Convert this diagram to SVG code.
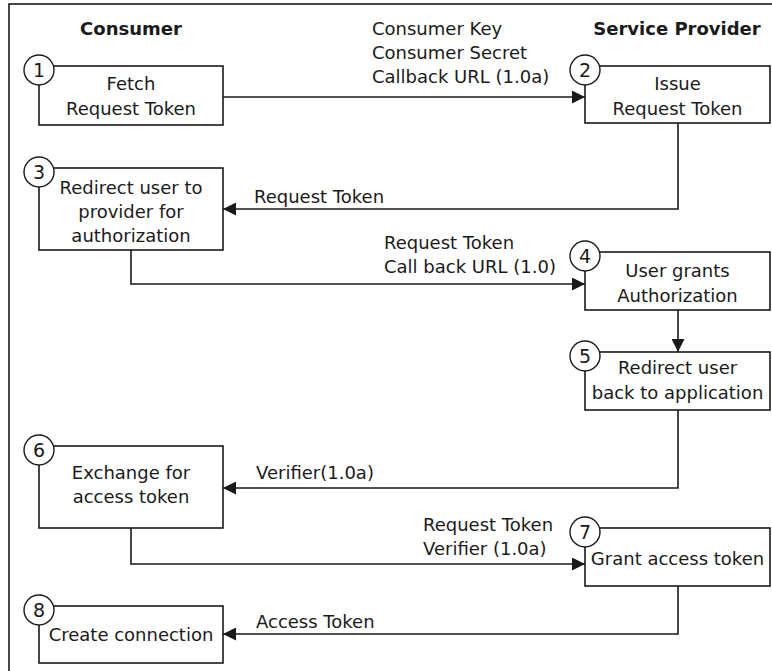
<svg xmlns="http://www.w3.org/2000/svg" width="772" height="671" viewBox="0 0 772 671">
  <style>
    .box { fill: #fff; stroke: #1a1a1a; stroke-width: 1.6; }
    .num { fill: #fff; stroke: #1a1a1a; stroke-width: 1.4; }
    .wire { fill: none; stroke: #1a1a1a; stroke-width: 1.6; }
    text { font-family: "DejaVu Sans", "Liberation Sans", sans-serif; font-size: 18px; fill: #1a1a1a; }
    .head { font-weight: bold; font-size: 18px; }
    .c { text-anchor: middle; }
    .n { font-size: 19px; text-anchor: middle; }
  </style>
  <defs>
    <marker id="arrow" viewBox="0 0 13 13" refX="13" refY="6.5" markerWidth="13" markerHeight="13" markerUnits="userSpaceOnUse" orient="auto">
      <path d="M0,0 L13,6.5 L0,13 Z" fill="#1a1a1a"/>
    </marker>
  </defs>

  <!-- outer frame -->
  <rect x="9" y="4" width="800" height="700" fill="none" stroke="#1a1a1a" stroke-width="1.6"/>

  <!-- column headings -->
  <text class="head c" x="131" y="35">Consumer</text>
  <text class="head c" x="677" y="35">Service Provider</text>

  <!-- connectors -->
  <g id="connectors">
    <path class="wire" d="M223,97 H585" marker-end="url(#arrow)"/>
    <path class="wire" d="M678,123 V209 H223" marker-end="url(#arrow)"/>
    <path class="wire" d="M131,250 V284 H585" marker-end="url(#arrow)"/>
    <path class="wire" d="M678,310 V352" marker-end="url(#arrow)"/>
    <path class="wire" d="M678,410 V488 H223" marker-end="url(#arrow)"/>
    <path class="wire" d="M131,528 V564 H585" marker-end="url(#arrow)"/>
    <path class="wire" d="M678,586 V634 H223" marker-end="url(#arrow)"/>

    <text x="372" y="35">Consumer Key</text>
    <text x="372" y="59">Consumer Secret</text>
    <text x="372" y="83">Callback URL (1.0a)</text>
    <text x="254" y="203">Request Token</text>
    <text x="384" y="249">Request Token</text>
    <text x="384" y="273">Call back URL (1.0)</text>
    <text x="256" y="479">Verifier(1.0a)</text>
    <text x="423" y="531">Request Token</text>
    <text x="423" y="555">Verifier (1.0a)</text>
    <text x="256" y="628">Access Token</text>
  </g>

  <!-- steps -->
  <g id="node1">
    <rect class="box" x="39" y="66" width="184" height="59"/>
    <text class="c" x="131" y="90">Fetch</text>
    <text class="c" x="131" y="115">Request Token</text>
    <circle class="num" cx="39" cy="70" r="15"/>
    <text class="n" x="39" y="77">1</text>
  </g>
  <g id="node2">
    <rect class="box" x="585" y="66" width="185" height="57"/>
    <text class="c" x="677.5" y="90">Issue</text>
    <text class="c" x="677.5" y="115">Request Token</text>
    <circle class="num" cx="585" cy="70" r="15"/>
    <text class="n" x="585" y="77">2</text>
  </g>
  <g id="node3">
    <rect class="box" x="39" y="168" width="184" height="82"/>
    <text class="c" x="131" y="194">Redirect user to</text>
    <text class="c" x="131" y="218">provider for</text>
    <text class="c" x="131" y="242">authorization</text>
    <circle class="num" cx="39" cy="172" r="15"/>
    <text class="n" x="39" y="179">3</text>
  </g>
  <g id="node4">
    <rect class="box" x="585" y="252" width="185" height="58"/>
    <text class="c" x="677.5" y="277">User grants</text>
    <text class="c" x="677.5" y="302">Authorization</text>
    <circle class="num" cx="585" cy="256" r="15"/>
    <text class="n" x="585" y="263">4</text>
  </g>
  <g id="node5">
    <rect class="box" x="585" y="352" width="185" height="58"/>
    <text class="c" x="677.5" y="374">Redirect user</text>
    <text class="c" x="677.5" y="399">back to application</text>
    <circle class="num" cx="585" cy="356" r="15"/>
    <text class="n" x="585" y="363">5</text>
  </g>
  <g id="node6">
    <rect class="box" x="39" y="446" width="184" height="82"/>
    <text class="c" x="131" y="479">Exchange for</text>
    <text class="c" x="131" y="503">access token</text>
    <circle class="num" cx="39" cy="450" r="15"/>
    <text class="n" x="39" y="457">6</text>
  </g>
  <g id="node7">
    <rect class="box" x="585" y="528" width="185" height="58"/>
    <text class="c" x="677.5" y="565">Grant access token</text>
    <circle class="num" cx="585" cy="532" r="15"/>
    <text class="n" x="585" y="539">7</text>
  </g>
  <g id="node8">
    <rect class="box" x="39" y="606" width="184" height="57"/>
    <text class="c" x="131" y="641">Create connection</text>
    <circle class="num" cx="39" cy="610" r="15"/>
    <text class="n" x="39" y="617">8</text>
  </g>
</svg>
